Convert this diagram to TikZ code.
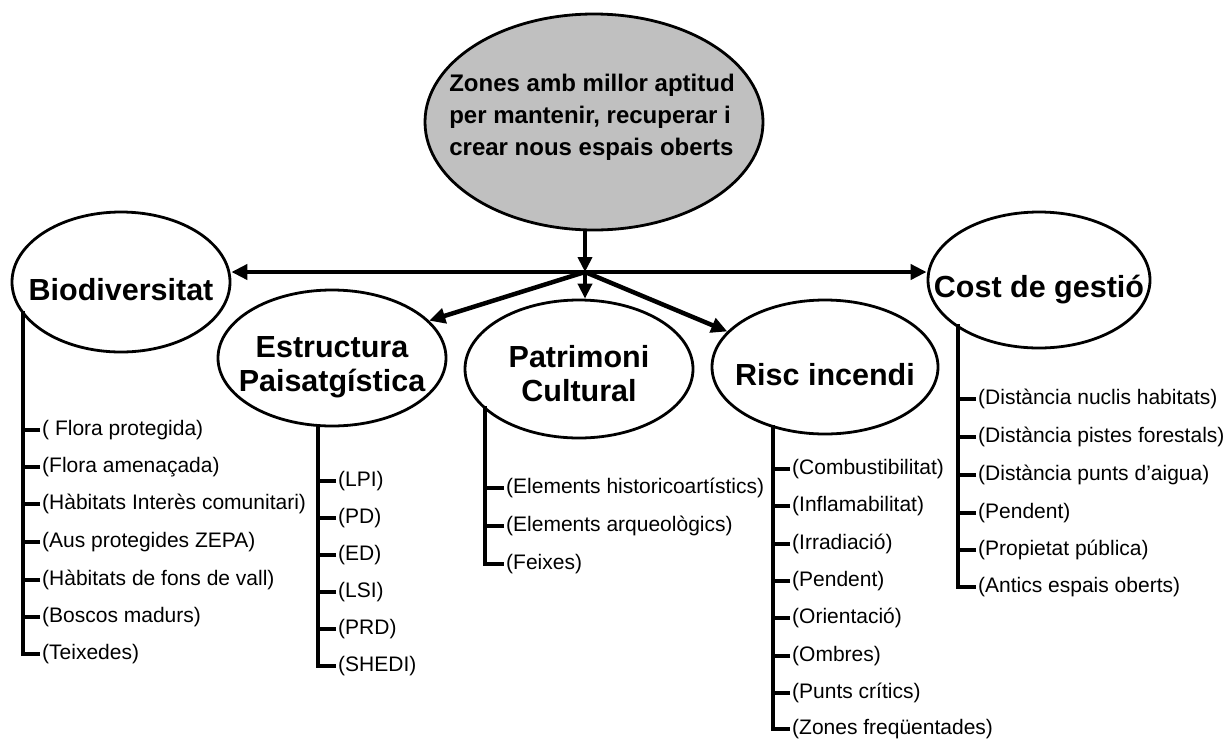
\documentclass[tikz,border=0pt]{standalone}
\usepackage{fontspec}
\setmainfont{Liberation Sans}
\usetikzlibrary{shapes.geometric,arrows.meta}
\definecolor{topgray}{HTML}{C0C0C0}
\begin{document}
\begin{tikzpicture}[x=1pt,y=-1pt,
  oval/.style={ellipse,draw,line width=2.8pt,inner sep=0pt},
  bigtxt/.style={font=\bfseries\fontsize{30.5}{34}\selectfont,align=center,inner sep=0pt},
  item/.style={anchor=west,inner xsep=2pt,inner ysep=0pt,font=\fontsize{21}{25}\selectfont},
  conn/.style={line width=4.5pt,-{Triangle[length=16pt,width=15pt]}},
  branch/.style={line width=3.4pt}]
\useasboundingbox (0,0) rectangle (1226,740);

% main ellipses
\node[oval,fill=topgray,minimum width=338pt,minimum height=216pt] (top) at (594,122) {};
\node[font=\bfseries\fontsize{24}{32}\selectfont,align=left,inner sep=0pt] (toptxt) at (592,117)
  {Zones amb millor aptitud\\per mantenir, recuperar i\\crear nous espais oberts};

\node[oval,minimum width=218pt,minimum height=140pt] (bio) at (121,282) {};
\node[bigtxt] (biot) at (121,290) {Biodiversitat};

\node[oval,minimum width=228pt,minimum height=136pt] (est) at (332,358) {};
\node[bigtxt] (estt) at (332,367) {Estructura\\Paisatgística};

\node[oval,minimum width=228pt,minimum height=138pt] (pat) at (579,369) {};
\node[bigtxt] (patt) at (579,374) {Patrimoni\\Cultural};

\node[oval,minimum width=226pt,minimum height=134pt] (risc) at (825,367) {};
\node[bigtxt] (risct) at (825,375) {Risc incendi};

\node[oval,minimum width=222pt,minimum height=136pt] (cost) at (1039,280) {};
\node[bigtxt] (costt) at (1039,290) {Cost de gestió};

% hub connectors
\coordinate (hub) at (585,272);
\draw[line width=3.8pt,-{Triangle[length=15pt,width=14pt]}] (hub |- top.south) -- (hub);
\draw[line width=4.8pt,{Triangle[length=16pt,width=15pt]}-{Triangle[length=16pt,width=15pt]}]
  (hub -| bio.east) -- (hub -| cost.west);
\draw[line width=3.8pt,-{Triangle[length=15pt,width=14pt]}] (hub) -- (hub |- pat.north);
\draw[conn] (hub) -- (est.21);
\draw[conn] (hub) -- (risc.160);

% Biodiversitat branch
\coordinate (b0) at (23,311);
\foreach \t/\y [count=\i] in {{( Flora protegida)}/430,{(Flora amenaçada)}/467,
  {(Hàbitats Interès comunitari)}/504,{(Aus protegides ZEPA)}/542,
  {(Hàbitats de fons de vall)}/580,{(Boscos madurs)}/617,{(Teixedes)}/654}
  \node[item] (b\i) at (40,\y) {\t};
\draw[branch] (b0) |- (b7.west);
\foreach \i in {1,...,6} \draw[branch] (b\i.west) -- (b\i.west -| b0);

% Estructura branch
\coordinate (e0) at (318,424);
\foreach \t/\y [count=\i] in {{(LPI)}/481,{(PD)}/518,{(ED)}/555,{(LSI)}/592,{(PRD)}/629,{(SHEDI)}/666}
  \node[item] (e\i) at (336,\y) {\t};
\draw[branch] (e0) |- (e6.west);
\foreach \i in {1,...,5} \draw[branch] (e\i.west) -- (e\i.west -| e0);

% Patrimoni branch
\coordinate (p0) at (485,406);
\foreach \t/\y [count=\i] in {{(Elements historicoartístics)}/488,{(Elements arqueològics)}/526,{(Feixes)}/564}
  \node[item] (p\i) at (504,\y) {\t};
\draw[branch] (p0) |- (p3.west);
\foreach \i in {1,2} \draw[branch] (p\i.west) -- (p\i.west -| p0);

% Risc branch
\coordinate (r0) at (773,425);
\foreach \t/\y [count=\i] in {{(Combustibilitat)}/469,{(Inflamabilitat)}/506,{(Irradiació)}/544,
  {(Pendent)}/581,{(Orientació)}/618,{(Ombres)}/656,{(Punts crítics)}/693,{(Zones freqüentades)}/729}
  \node[item] (r\i) at (790,\y) {\t};
\draw[branch] (r0) |- (r8.west);
\foreach \i in {1,...,7} \draw[branch] (r\i.west) -- (r\i.west -| r0);

% Cost branch
\coordinate (c0) at (958,324);
\foreach \t/\y [count=\i] in {{(Distància nuclis habitats)}/399,{(Distància pistes forestals)}/437,
  {(Distància punts d’aigua)}/475,{(Pendent)}/513,{(Propietat pública)}/550,{(Antics espais oberts)}/587}
  \node[item] (c\i) at (976,\y) {\t};
\draw[branch] (c0) |- (c6.west);
\foreach \i in {1,...,5} \draw[branch] (c\i.west) -- (c\i.west -| c0);
\end{tikzpicture}
\end{document}
